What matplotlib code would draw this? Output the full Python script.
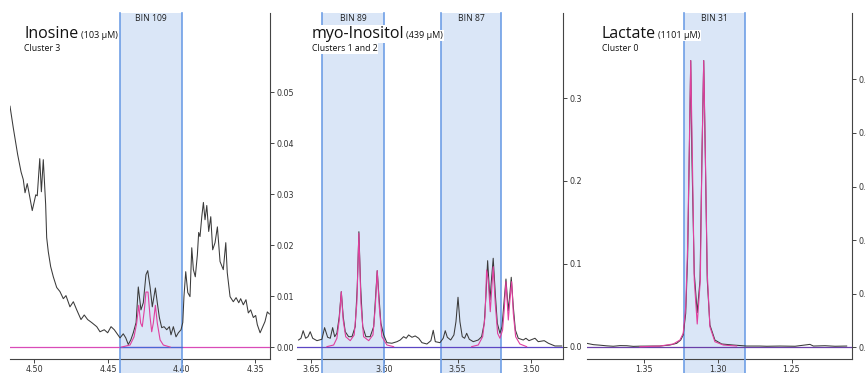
import matplotlib
matplotlib.use("Agg")
import matplotlib.pyplot as plt
from matplotlib.ticker import FormatStrFormatter

# ---- Inosine (bin 109) ----
ino_ppm = [4.5165, 4.5143, 4.5113, 4.5090, 4.5075, 4.5063, 4.5048, 4.5036, 4.5014, 4.4990,
           4.4980, 4.4963, 4.4952, 4.4939, 4.4923, 4.4916, 4.4905, 4.4889, 4.4871, 4.4848,
           4.4826, 4.4803, 4.4785, 4.4758, 4.4735, 4.4712, 4.4683, 4.4661, 4.4638, 4.4610,
           4.4576, 4.4554, 4.4525, 4.4502, 4.4479, 4.4457,
           4.4418, 4.4396, 4.4379, 4.4362, 4.4345, 4.4328, 4.4309, 4.4294, 4.4276, 4.4260,
           4.4242, 4.4230, 4.4214, 4.4199, 4.4178, 4.4165, 4.4151, 4.4135, 4.4119, 4.4101,
           4.4083, 4.4072, 4.4056, 4.4038, 4.4022, 4.4004, 4.3992, 4.3984, 4.3972, 4.3958,
           4.3943, 4.3931, 4.3920, 4.3907, 4.3893, 4.3884, 4.3875, 4.3863, 4.3852, 4.3841,
           4.3829, 4.3816, 4.3802, 4.3789, 4.3773, 4.3757, 4.3739, 4.3717, 4.3700, 4.3690,
           4.3671, 4.3649, 4.3630, 4.3612, 4.3599, 4.3581, 4.3563, 4.3547, 4.3531, 4.3513,
           4.3497, 4.3486, 4.3467, 4.3449, 4.3434, 4.3418, 4.3404]
ino_int = [0.0473, 0.0431, 0.0378, 0.0344, 0.0329, 0.0303, 0.0321, 0.0303, 0.0268, 0.0299,
           0.0297, 0.0370, 0.0305, 0.0368, 0.0280, 0.0215, 0.0187, 0.0158, 0.0138, 0.0117,
           0.0109, 0.0095, 0.0101, 0.0079, 0.0089, 0.0073, 0.0054, 0.0063, 0.0054, 0.0048,
           0.0040, 0.0030, 0.0034, 0.0028, 0.0040, 0.0034,
           0.0018, 0.0026, 0.0018, 0.0005, 0.0014, 0.0028, 0.0048, 0.0118, 0.0073, 0.0087,
           0.0142, 0.0150, 0.0118, 0.0079, 0.0116, 0.0087, 0.0058, 0.0038, 0.0040, 0.0034,
           0.0040, 0.0024, 0.0040, 0.0020, 0.0028, 0.0034, 0.0048, 0.0099, 0.0148, 0.0107,
           0.0099, 0.0195, 0.0152, 0.0138, 0.0181, 0.0225, 0.0217, 0.0256, 0.0284, 0.0250,
           0.0278, 0.0227, 0.0256, 0.0191, 0.0205, 0.0236, 0.0168, 0.0152, 0.0205, 0.0146,
           0.0099, 0.0089, 0.0097, 0.0087, 0.0095, 0.0083, 0.0093, 0.0067, 0.0073, 0.0058,
           0.0062, 0.0044, 0.0028, 0.0040, 0.0050, 0.0069, 0.0065]
ino_fit_ppm = [4.4407, 4.4350, 4.4323, 4.4305, 4.4291, 4.4278, 4.4267, 4.4253, 4.4242,
               4.4228, 4.4214, 4.4203, 4.4192, 4.4178, 4.4165, 4.4146, 4.4124, 4.4078]
ino_fit_int = [0.0000, 0.0004, 0.0020, 0.0047, 0.0082, 0.0047, 0.0040, 0.0073, 0.0108,
               0.0108, 0.0059, 0.0030, 0.0047, 0.0082, 0.0047, 0.0014, 0.0004, 0.0000]
ino_bins = [(4.442, 4.400, "BIN 109")]

# ---- myo-Inositol (bins 89 and 87) ----
myo_ppm = [3.6584, 3.6568, 3.6553, 3.6536, 3.6520, 3.6505, 3.6488, 3.6459, 3.6425, 3.6407,
           3.6386, 3.6368, 3.6352, 3.6338, 3.6323, 3.6307, 3.6293, 3.6280, 3.6266, 3.6243,
           3.6220, 3.6198, 3.6184, 3.6173, 3.6161, 3.6147, 3.6125, 3.6096, 3.6072, 3.6059,
           3.6048, 3.6036, 3.6023, 3.6004, 3.5982, 3.5948, 3.5913, 3.5891, 3.5868, 3.5850,
           3.5834, 3.5811, 3.5789, 3.5765, 3.5743, 3.5709, 3.5682, 3.5666, 3.5652, 3.5620,
           3.5598, 3.5584, 3.5570, 3.5547, 3.5525, 3.5511, 3.5497, 3.5484, 3.5468, 3.5452,
           3.5438, 3.5420, 3.5393, 3.5359, 3.5336, 3.5318, 3.5307, 3.5295, 3.5279, 3.5268,
           3.5257, 3.5243, 3.5229, 3.5211, 3.5197, 3.5184, 3.5170, 3.5154, 3.5143, 3.5134,
           3.5120, 3.5106, 3.5086, 3.5052, 3.5034, 3.5013, 3.4972, 3.4950, 3.4909, 3.4881,
           3.4836, 3.4790]
myo_int = [0.0084, 0.0105, 0.0196, 0.0105, 0.0124, 0.0184, 0.0105, 0.0076, 0.0093, 0.0233,
           0.0117, 0.0105, 0.0233, 0.0124, 0.0165, 0.0365, 0.0666, 0.0365, 0.0184, 0.0124,
           0.0124, 0.0245, 0.0726, 0.1389, 0.0726, 0.0245, 0.0124, 0.0124, 0.0245, 0.0606,
           0.0919, 0.0606, 0.0286, 0.0145, 0.0052, 0.0045, 0.0064, 0.0084, 0.0124, 0.0105,
           0.0145, 0.0117, 0.0133, 0.0105, 0.0052, 0.0036, 0.0076, 0.0201, 0.0064, 0.0052,
           0.0105, 0.0196, 0.0117, 0.0084, 0.0145, 0.0305, 0.0599, 0.0305, 0.0124, 0.0105,
           0.0165, 0.0093, 0.0064, 0.0084, 0.0124, 0.0286, 0.0606, 0.1040, 0.0566, 0.0828,
           0.1069, 0.0647, 0.0286, 0.0165, 0.0245, 0.0526, 0.0819, 0.0437, 0.0647, 0.0840,
           0.0486, 0.0205, 0.0105, 0.0084, 0.0105, 0.0076, 0.0105, 0.0064, 0.0076, 0.0045,
           0.0012, 0.0012]
myo_fit89_ppm = [3.6391, 3.6345, 3.6323, 3.6307, 3.6293, 3.6280, 3.6263, 3.6232, 3.6205,
                 3.6187, 3.6173, 3.6159, 3.6141, 3.6106, 3.6077, 3.6061, 3.6048, 3.6034,
                 3.6016, 3.5982, 3.5936]
myo_fit89_int = [0.0004, 0.0024, 0.0105, 0.0325, 0.0666, 0.0325, 0.0124, 0.0076, 0.0145,
                 0.0526, 0.1370, 0.0526, 0.0124, 0.0076, 0.0145, 0.0486, 0.0919, 0.0486,
                 0.0124, 0.0024, 0.0004]
myo_fit87_ppm = [3.5404, 3.5359, 3.5329, 3.5313, 3.5302, 3.5291, 3.5277, 3.5266, 3.5257,
                 3.5243, 3.5227, 3.5211, 3.5193, 3.5182, 3.5170, 3.5154, 3.5143, 3.5131,
                 3.5120, 3.5104, 3.5075, 3.5029]
myo_fit87_int = [0.0004, 0.0024, 0.0124, 0.0365, 0.0928, 0.0807, 0.0425, 0.0726, 0.0967,
                 0.0526, 0.0165, 0.0105, 0.0205, 0.0446, 0.0787, 0.0325, 0.0566, 0.0787,
                 0.0406, 0.0124, 0.0036, 0.0004]
myo_bins = [(3.6425, 3.6002, "BIN 89"), (3.5613, 3.5204, "BIN 87")]

# ---- Lactate (bin 31) ----
lac_ppm = [1.3888, 1.3843, 1.3798, 1.3753, 1.3708, 1.3662, 1.3617, 1.3572, 1.3527, 1.3437,
           1.3392, 1.3324, 1.3278, 1.3251, 1.3234, 1.3217, 1.3204, 1.3193, 1.3183, 1.3175,
           1.3159, 1.3139, 1.3120, 1.3107, 1.3095, 1.3084, 1.3071, 1.3053, 1.3019, 1.2973,
           1.2895, 1.2804, 1.2714, 1.2669, 1.2578, 1.2476, 1.2375, 1.2352, 1.2273, 1.2205,
           1.2126]
lac_int = [0.0075, 0.0050, 0.0040, 0.0028, 0.0020, 0.0032, 0.0030, 0.0018, 0.0022, 0.0024,
           0.0024, 0.0043, 0.0075, 0.0136, 0.0230, 0.0634, 0.1690, 0.3556, 0.5350, 0.3556,
           0.1380, 0.0646, 0.1256, 0.3556, 0.5350, 0.3556, 0.1256, 0.0416, 0.0136, 0.0062,
           0.0043, 0.0024, 0.0024, 0.0020, 0.0024, 0.0020, 0.0055, 0.0024, 0.0030, 0.0020,
           0.0024]
lac_fit_ppm = [1.3527, 1.3392, 1.3301, 1.3256, 1.3234, 1.3217, 1.3204, 1.3193, 1.3183,
               1.3172, 1.3159, 1.3139, 1.3118, 1.3107, 1.3095, 1.3084, 1.3071, 1.3053,
               1.3019, 1.2962, 1.2872]
lac_fit_int = [0.0010, 0.0024, 0.0062, 0.0136, 0.0260, 0.0757, 0.1877, 0.3680, 0.5350,
               0.3556, 0.1256, 0.0435, 0.1256, 0.3556, 0.5350, 0.3620, 0.1380, 0.0384,
               0.0104, 0.0043, 0.0024]
lac_bins = [(1.3229, 1.2813, "BIN 31")]

BIN_FILL = "#dae6f7"
BIN_EDGE = "#6f9fe6"
SPEC = "#3a3a3a"
FIT = "#e0409f"
TITLE_FONT = ["Open Sans", "DejaVu Sans"]


def draw_panel(ax, ppm, inten, fits, bins, xlim, ylim, xticks, yticks, yfmt,
               name, conc, cluster, base_color, bin_base=None):
    for lo, hi, label in bins:
        ax.axvspan(hi, lo, ymin=-0.1, ymax=1, facecolor=BIN_FILL, edgecolor="none",
                   zorder=0.5, clip_on=False)
        for edge in (lo, hi):
            ax.axvline(edge, ymin=-0.1, ymax=1, color=BIN_EDGE, lw=1.2, zorder=3,
                       clip_on=False)
        ax.text((lo + hi) / 2, 0.985, label, transform=ax.get_xaxis_transform(),
                ha="center", va="center", fontsize=6.2, family=TITLE_FONT, color="#222")

    ax.axhline(0, color=base_color, lw=0.9, zorder=3.5)
    if bin_base is not None:
        ax.plot([bins[0][0], bins[0][1]], [0, 0], color=bin_base, lw=0.9, zorder=3.6)
    ax.plot(ppm, inten, color=SPEC, lw=0.75, zorder=4)
    for fx, fy in fits:
        ax.plot(fx, fy, color=FIT, lw=0.8, zorder=4.5)

    ax.set_xlim(*xlim)
    ax.set_ylim(*ylim)
    ax.set_xticks(xticks)
    ax.set_yticks(yticks)
    ax.xaxis.set_major_formatter(FormatStrFormatter("%.2f"))
    ax.yaxis.set_major_formatter(FormatStrFormatter(yfmt))
    ax.yaxis.tick_right()
    for s in ("left", "top"):
        ax.spines[s].set_visible(False)
    for s in ("right", "bottom"):
        ax.spines[s].set_color("#444")
        ax.spines[s].set_linewidth(0.8)
    ax.tick_params(axis="both", length=3, width=0.7, color="#444", labelsize=5.8,
                   labelcolor="#333", pad=1.5)

    box = dict(facecolor="white", edgecolor="none", pad=0.6)
    big = ax.text(0.055, 0.927, name, transform=ax.transAxes, fontsize=11.5,
                  family=TITLE_FONT, va="baseline", ha="left", color="#111",
                  bbox=box, zorder=6)
    ax.annotate(conc, xy=(1, 0.927), xycoords=(big, "axes fraction"),
                xytext=(1.5, 0), textcoords="offset points", fontsize=6.5,
                family=TITLE_FONT, va="baseline", ha="left", color="#111",
                bbox=box, zorder=6)
    ax.text(0.055, 0.891, cluster, transform=ax.transAxes, fontsize=6.3,
            family=TITLE_FONT, va="baseline", ha="left", color="#111",
            bbox=box, zorder=6)


fig = plt.figure(figsize=(8.66, 3.73), dpi=100)
ax1 = fig.add_axes([0.01155, 0.0375, 0.3002, 0.9276])
ax2 = fig.add_axes([0.34296, 0.0375, 0.30716, 0.9276])
ax3 = fig.add_axes([0.67783, 0.0375, 0.30600, 0.9276])

draw_panel(ax1, ino_ppm, ino_int, [(ino_fit_ppm, ino_fit_int)], ino_bins,
           (4.5165, 4.3400), (-0.00235, 0.0656),
           [4.50, 4.45, 4.40, 4.35], [0, 0.01, 0.02, 0.03, 0.04, 0.05], "%.2f",
           "Inosine", "(103 µM)", "Cluster 3", "#d94bb8", bin_base="#4a66d6")
draw_panel(ax2, myo_ppm, myo_int,
           [(myo_fit89_ppm, myo_fit89_int), (myo_fit87_ppm, myo_fit87_int)], myo_bins,
           (3.6595, 3.4781), (-0.0145, 0.4024),
           [3.65, 3.60, 3.55, 3.50], [0, 0.1, 0.2, 0.3], "%.1f",
           "myo-Inositol", "(439 µM)", "Clusters 1 and 2", "#5c46c4")
draw_panel(ax3, lac_ppm, lac_int, [(lac_fit_ppm, lac_fit_int)], lac_bins,
           (1.3886, 1.2090), (-0.0218, 0.6237),
           [1.35, 1.30, 1.25], [0, 0.1, 0.2, 0.3, 0.4, 0.5], "%.1f",
           "Lactate", "(1101 µM)", "Cluster 0", "#6a3fa8")

fig.savefig("out.png", dpi=100)
